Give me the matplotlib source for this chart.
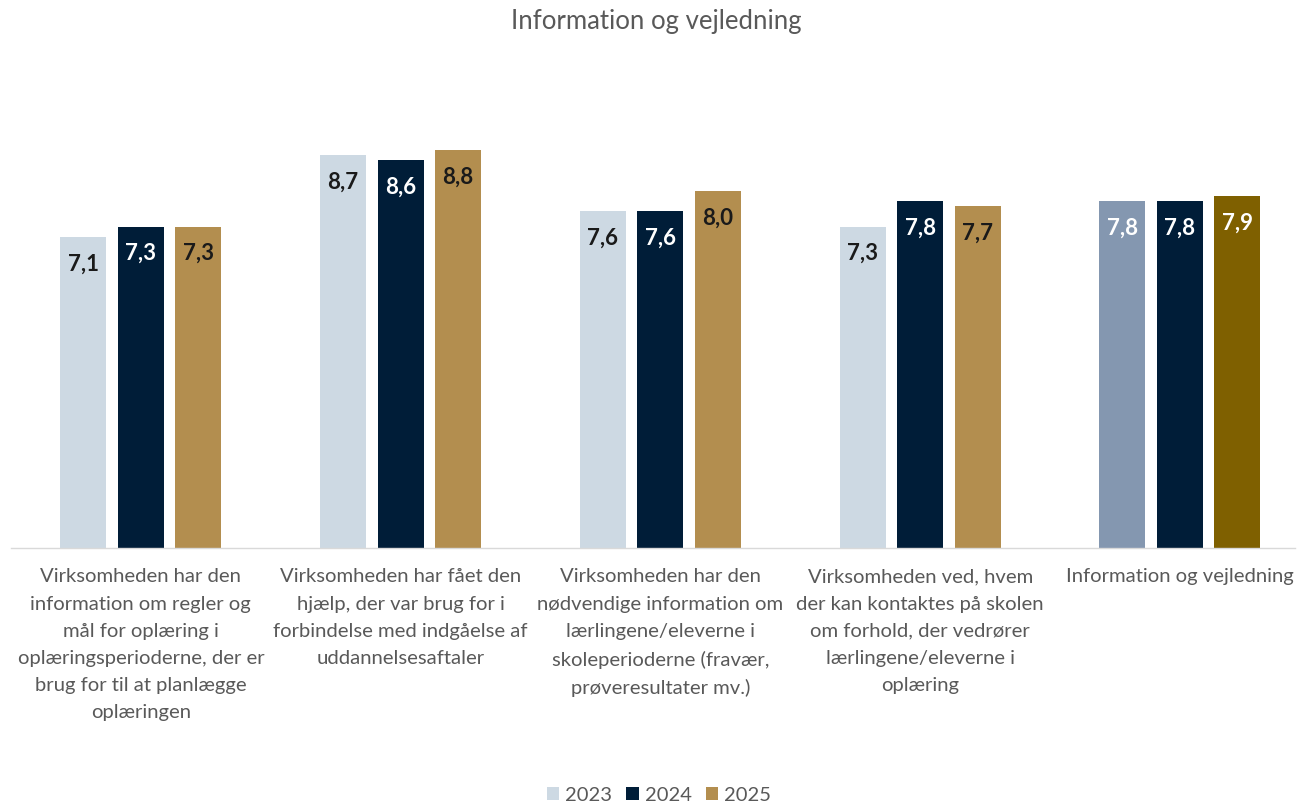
import matplotlib
matplotlib.use("Agg")
import matplotlib.pyplot as plt
from matplotlib.patches import Patch
import numpy as np

plt.rcParams['font.family'] = ['Lato', 'DejaVu Sans']

title = "Information og vejledning"
categories = [
    "Virksomheden har den\ninformation om regler og\nmål for oplæring i\noplæringsperioderne, der er\nbrug for til at planlægge\noplæringen",
    "Virksomheden har fået den\nhjælp, der var brug for i\nforbindelse med indgåelse af\nuddannelsesaftaler",
    "Virksomheden har den\nnødvendige information om\nlærlingene/eleverne i\nskoleperioderne (fravær,\nprøveresultater mv.)",
    "Virksomheden ved, hvem\nder kan kontaktes på skolen\nom forhold, der vedrører\nlærlingene/eleverne i\noplæring",
    "Information og vejledning",
]
years = ["2023", "2024", "2025"]
values_2023 = [7.1, 8.7, 7.6, 7.3, 7.8]
values_2024 = [7.3, 8.6, 7.6, 7.8, 7.8]
values_2025 = [7.3, 8.8, 8.0, 7.7, 7.9]

series = [values_2023, values_2024, values_2025]
base_colors = ["#CDD9E3", "#001D38", "#B38E4F"]
total_colors = ["#8497B0", "#001D38", "#7F6000"]
base_text = ["#1A1A1A", "white", "#1A1A1A"]
total_text = ["white", "white", "white"]

W, H = 1308, 804
fig = plt.figure(figsize=(W / 100, H / 100), dpi=100)

ax_left, ax_right = 11, 1295
ax_bottom, ax_top = 549, 90
ax = fig.add_axes([ax_left / W, (H - ax_bottom) / H,
                   (ax_right - ax_left) / W, (ax_bottom - ax_top) / H])

cat_px = 259.75
x = np.arange(len(categories))
bar_w = 46 / cat_px
pitch = 57.5 / cat_px
n = len(categories)

for s, vals in enumerate(series):
    offs = (s - 1) * pitch
    cols = [base_colors[s]] * (n - 1) + [total_colors[s]]
    tcols = [base_text[s]] * (n - 1) + [total_text[s]]
    bars = ax.bar(x + offs, vals, width=bar_w, color=cols, bottom=0, zorder=2)
    for b, v, tc in zip(bars, vals, tcols):
        ax.annotate(f"{v:.1f}".replace(".", ","),
                    xy=(b.get_x() + b.get_width() / 2, v),
                    xytext=(0, -26), textcoords="offset pixels",
                    ha="center", va="center", fontsize=16,
                    fontweight="bold", color=tc, zorder=3)

ax.set_ylim(1, 10)
ax.set_xlim(-0.5, -0.5 + (ax_right - ax_left) / cat_px)
ax.set_yticks([])
ax.set_xticks(x)
ax.set_xticklabels(categories, fontsize=14.6, color="#595959", linespacing=1.72)
ax.tick_params(axis="x", length=0, pad=14)
for sp in ["top", "right", "left"]:
    ax.spines[sp].set_visible(False)
ax.spines["bottom"].set_color("#D9D9D9")
ax.spines["bottom"].set_linewidth(1.0)

fig.text(656 / W, 1 - 22 / H, title, ha="center", va="center",
         fontsize=18.5, color="#595959")

handles = [Patch(facecolor=c, edgecolor="none") for c in base_colors]
fig.legend(handles, years, loc="center", bbox_to_anchor=(659 / W, 1 - 796 / H),
           ncol=3, frameon=False, fontsize=14.5, labelcolor="#595959",
           handlelength=0.6, handleheight=0.6, handletextpad=0.3,
           columnspacing=0.7)

fig.savefig("out.png", dpi=100)
